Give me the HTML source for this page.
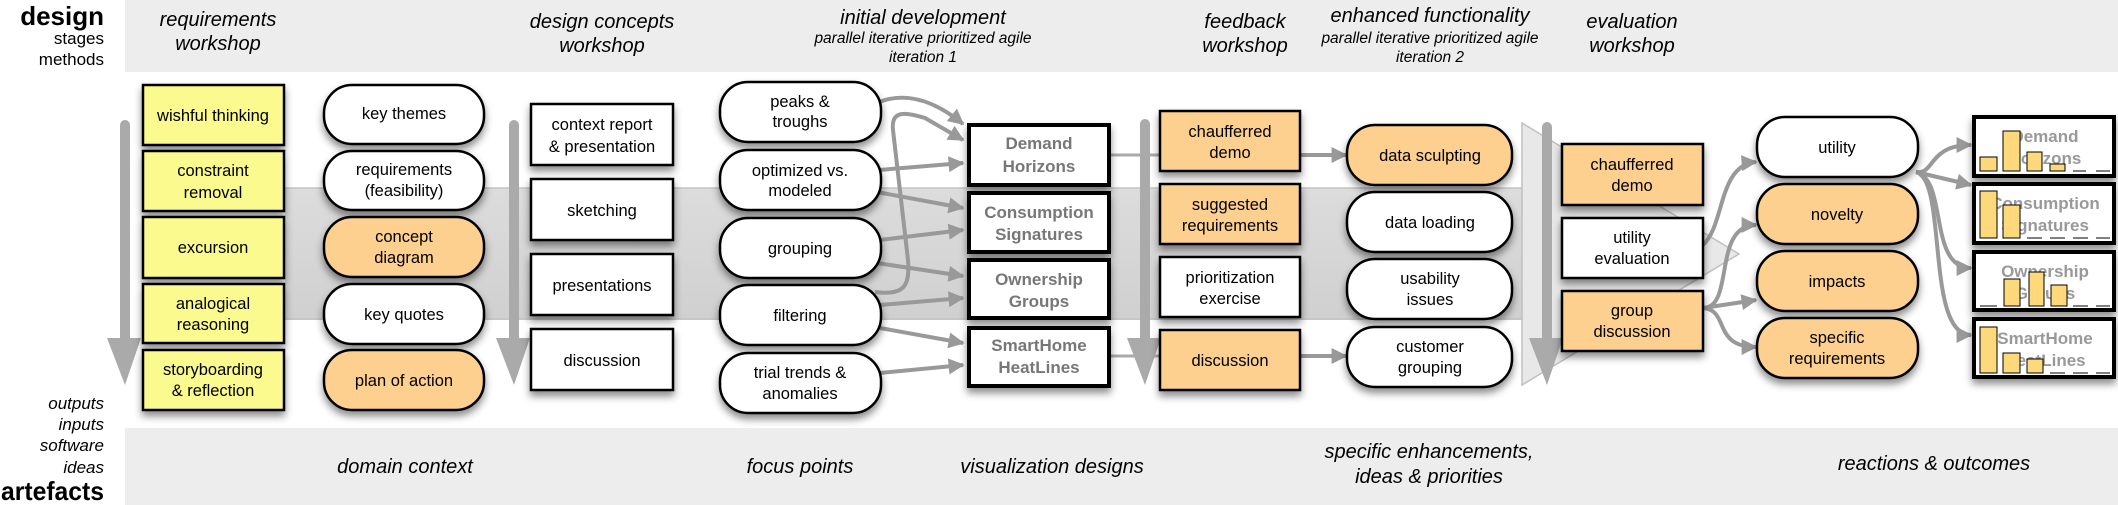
<!DOCTYPE html>
<html><head><meta charset="utf-8"><style>
html,body{margin:0;padding:0;background:#fff;}
svg{display:block;}
text{font-family:"Liberation Sans",sans-serif;}
</style></head><body>
<svg width="2118" height="505" viewBox="0 0 2118 505" xmlns="http://www.w3.org/2000/svg">
<defs>
<filter id="sh" x="-20%" y="-20%" width="140%" height="160%"><feDropShadow dx="0" dy="5" stdDeviation="4" flood-color="#000" flood-opacity="0.45"/></filter>
<marker id="ah" viewBox="0 0 10 10" markerWidth="18" markerHeight="16" markerUnits="userSpaceOnUse" refX="9" refY="5" orient="auto"><path d="M0,0 L10,5 L0,10 z" fill="#999"/></marker>
<linearGradient id="band" x1="0" y1="0" x2="0" y2="1"><stop offset="0" stop-color="#dcdcdc"/><stop offset="1" stop-color="#d0d0d0"/></linearGradient>
</defs>
<!-- bands -->
<rect x="125" y="0" width="1993" height="72" fill="#ededed"/>
<rect x="125" y="428" width="1993" height="77" fill="#ededed"/>
<rect x="285" y="188" width="1237" height="132" fill="url(#band)"/>
<line x1="285" y1="188" x2="1522" y2="188" stroke="#c4c4c4" stroke-width="1.5"/>
<line x1="285" y1="319" x2="1522" y2="319" stroke="#c4c4c4" stroke-width="1.5"/>
<polygon points="1522,123 1739,254 1522,385" fill="#d8d8d8" fill-opacity="0.6" stroke="#c0c0c0" stroke-width="1.5"/>

<!-- left labels -->
<g text-anchor="end">
<text x="104" y="25" font-size="26" font-weight="bold">design</text>
<text x="104" y="44" font-size="17">stages</text>
<text x="104" y="65" font-size="17">methods</text>
<g font-style="italic" font-size="17">
<text x="104" y="409">outputs</text>
<text x="104" y="430">inputs</text>
<text x="104" y="451">software</text>
<text x="104" y="473">ideas</text>
</g>
</g>
<text x="1" y="500" font-size="26" font-weight="bold" textLength="103" lengthAdjust="spacingAndGlyphs">artefacts</text>

<!-- header texts -->
<g text-anchor="middle" font-style="italic" font-size="20">
<text x="218" y="26">requirements</text><text x="218" y="50">workshop</text>
<text x="602" y="28">design concepts</text><text x="602" y="52">workshop</text>
<text x="923" y="24">initial development</text>
<text x="923" y="43" font-size="15.5">parallel iterative prioritized agile</text>
<text x="923" y="62" font-size="15.5">iteration 1</text>
<text x="1245" y="28">feedback</text><text x="1245" y="52">workshop</text>
<text x="1430" y="22">enhanced functionality</text>
<text x="1430" y="43" font-size="15.5">parallel iterative prioritized agile</text>
<text x="1430" y="62" font-size="15.5">iteration 2</text>
<text x="1632" y="28">evaluation</text><text x="1632" y="52">workshop</text>
<text x="405" y="473">domain context</text>
<text x="800" y="473">focus points</text>
<text x="1052" y="473">visualization designs</text>
<text x="1429" y="458">specific enhancements,</text>
<text x="1429" y="483">ideas &amp; priorities</text>
<text x="1934" y="470">reactions &amp; outcomes</text>
</g>

<!-- big arrows -->
<g fill="#aaa">
<rect x="120" y="120" width="10" height="225" rx="5"/><polygon points="107,338 141,338 125,385"/>
<rect x="509" y="120" width="10" height="225" rx="5"/><polygon points="496,338 530,338 514,385"/>
<rect x="1140" y="119" width="10" height="225" rx="5"/><polygon points="1127,338 1161,338 1145,385"/>
<rect x="1542" y="122" width="10" height="225" rx="5"/><polygon points="1529,338 1563,338 1547,385"/>
</g>

<!-- connector lines -->
<g fill="none" stroke="#999" stroke-width="4">
<line x1="1110" y1="155" x2="1160" y2="155" stroke="#aaa" stroke-width="3"/>
<line x1="1110" y1="356" x2="1160" y2="356" stroke="#aaa" stroke-width="3"/>
<path d="M875,292 C905,296 910,285 908,260 L893,130 C891,110 905,112 925,118 L963,140" marker-end="url(#ah)"/>
<path d="M879,102 C910,90 940,105 963,124" marker-end="url(#ah)"/>
<path d="M879,170 L963,163" marker-end="url(#ah)"/>
<path d="M877,192 L963,208" marker-end="url(#ah)"/>
<path d="M880,240 L963,230" marker-end="url(#ah)"/>
<path d="M877,263 L963,276" marker-end="url(#ah)"/>
<path d="M880,305 L963,298" marker-end="url(#ah)"/>
<path d="M880,328 L963,343" marker-end="url(#ah)"/>
<path d="M880,373 L963,365" marker-end="url(#ah)"/>
<path d="M1300,155 L1346,155" marker-end="url(#ah)"/>
<path d="M1300,356 L1346,356" marker-end="url(#ah)"/>
<path d="M1703,245 C1725,225 1718,165 1756,162" marker-end="url(#ah)"/>
<path d="M1703,308 C1735,308 1712,225 1756,225" marker-end="url(#ah)"/>
<path d="M1703,308 L1756,300" marker-end="url(#ah)"/>
<path d="M1703,308 C1730,310 1712,347 1756,347" marker-end="url(#ah)"/>
<path d="M1916,172 C1935,175 1928,145 1971,145" marker-end="url(#ah)"/>
<path d="M1916,172 L1971,185" marker-end="url(#ah)"/>
<path d="M1916,172 C1948,180 1928,268 1971,268" marker-end="url(#ah)"/>
<path d="M1916,172 C1948,180 1925,335 1971,335" marker-end="url(#ah)"/>
</g>

<!-- shapes -->
<g stroke="#000" stroke-width="2.5" filter="url(#sh)">
<g fill="#fbfa8f">
<rect x="143" y="85" width="141" height="60"/><rect x="143" y="151" width="141" height="60"/>
<rect x="143" y="217" width="141" height="61"/><rect x="143" y="284" width="141" height="59"/>
<rect x="143" y="350" width="141" height="60"/>
</g>
<rect x="324" y="85" width="160" height="59" rx="28" fill="#fff"/>
<rect x="324" y="151" width="160" height="59" rx="28" fill="#fff"/>
<rect x="324" y="217" width="160" height="60" rx="28" fill="#fdd08f"/>
<rect x="324" y="284" width="160" height="60" rx="28" fill="#fff"/>
<rect x="324" y="350" width="160" height="60" rx="28" fill="#fdd08f"/>
<g fill="#fff">
<rect x="531" y="104" width="142" height="61"/><rect x="531" y="179" width="142" height="61"/>
<rect x="531" y="254" width="142" height="61"/><rect x="531" y="329" width="142" height="61"/>
</g>
<g fill="#fff">
<rect x="720" y="82" width="161" height="60" rx="28"/><rect x="720" y="150" width="161" height="60" rx="28"/>
<rect x="720" y="218" width="161" height="60" rx="28"/><rect x="720" y="285" width="161" height="60" rx="28"/>
<rect x="720" y="353" width="161" height="60" rx="28"/>
</g>
<g fill="#fff" stroke-width="4">
<rect x="969" y="125" width="140" height="60"/><rect x="969" y="193" width="140" height="59"/>
<rect x="969" y="260" width="140" height="58"/><rect x="969" y="328" width="140" height="58"/>
</g>
<rect x="1160" y="111" width="140" height="60" fill="#fdd08f"/>
<rect x="1160" y="184" width="140" height="60" fill="#fdd08f"/>
<rect x="1160" y="257" width="140" height="60" fill="#fff"/>
<rect x="1160" y="330" width="140" height="60" fill="#fdd08f"/>
<rect x="1347" y="125" width="165" height="60" rx="28" fill="#fdd08f"/>
<rect x="1347" y="192" width="165" height="60" rx="28" fill="#fff"/>
<rect x="1347" y="259" width="165" height="60" rx="28" fill="#fff"/>
<rect x="1347" y="327" width="165" height="60" rx="28" fill="#fff"/>
<rect x="1562" y="144" width="141" height="61" fill="#fdd08f"/>
<rect x="1562" y="218" width="141" height="60" fill="#fff"/>
<rect x="1562" y="291" width="141" height="60" fill="#fdd08f"/>
<rect x="1757" y="117" width="161" height="60" rx="28" fill="#fff"/>
<rect x="1757" y="184" width="161" height="60" rx="28" fill="#fdd08f"/>
<rect x="1757" y="251" width="161" height="60" rx="28" fill="#fdd08f"/>
<rect x="1757" y="318" width="161" height="60" rx="28" fill="#fdd08f"/>
<g fill="#fff" stroke-width="4">
<rect x="1974" y="117" width="140" height="59"/><rect x="1974" y="184" width="140" height="59"/>
<rect x="1974" y="252" width="140" height="58"/><rect x="1974" y="319" width="140" height="58"/>
</g>
</g>

<!-- box texts -->
<g text-anchor="middle" font-size="16.5" fill="#000">
<text x="213" y="121">wishful thinking</text>
<text x="213" y="176">constraint</text><text x="213" y="198">removal</text>
<text x="213" y="253">excursion</text>
<text x="213" y="309">analogical</text><text x="213" y="330">reasoning</text>
<text x="213" y="375">storyboarding</text><text x="213" y="396">&amp; reflection</text>

<text x="404" y="119">key themes</text>
<text x="404" y="175">requirements</text><text x="404" y="196">(feasibility)</text>
<text x="404" y="242">concept</text><text x="404" y="263">diagram</text>
<text x="404" y="320">key quotes</text>
<text x="404" y="386">plan of action</text>

<text x="602" y="130">context report</text><text x="602" y="152">&amp; presentation</text>
<text x="602" y="216">sketching</text>
<text x="602" y="291">presentations</text>
<text x="602" y="366">discussion</text>

<text x="800" y="107">peaks &amp;</text><text x="800" y="127">troughs</text>
<text x="800" y="176">optimized vs.</text><text x="800" y="196">modeled</text>
<text x="800" y="254">grouping</text>
<text x="800" y="321">filtering</text>
<text x="800" y="378">trial trends &amp;</text><text x="800" y="399">anomalies</text>

<g font-weight="bold" fill="#777" font-size="17">
<text x="1039" y="149">Demand</text><text x="1039" y="172">Horizons</text>
<text x="1039" y="218">Consumption</text><text x="1039" y="240">Signatures</text>
<text x="1039" y="285">Ownership</text><text x="1039" y="307">Groups</text>
<text x="1039" y="351">SmartHome</text><text x="1039" y="373">HeatLines</text>
</g>

<text x="1230" y="137">chaufferred</text><text x="1230" y="158">demo</text>
<text x="1230" y="210">suggested</text><text x="1230" y="231">requirements</text>
<text x="1230" y="283">prioritization</text><text x="1230" y="304">exercise</text>
<text x="1230" y="366">discussion</text>

<text x="1430" y="161">data sculpting</text>
<text x="1430" y="228">data loading</text>
<text x="1430" y="284">usability</text><text x="1430" y="305">issues</text>
<text x="1430" y="352">customer</text><text x="1430" y="373">grouping</text>

<text x="1632" y="170">chaufferred</text><text x="1632" y="191">demo</text>
<text x="1632" y="243">utility</text><text x="1632" y="264">evaluation</text>
<text x="1632" y="316">group</text><text x="1632" y="337">discussion</text>

<text x="1837" y="153">utility</text>
<text x="1837" y="220">novelty</text>
<text x="1837" y="287">impacts</text>
<text x="1837" y="343">specific</text><text x="1837" y="364">requirements</text>

<g font-weight="bold" fill="#999" font-size="17">
<text x="2045" y="142">Demand</text><text x="2045" y="164">Horizons</text>
<text x="2045" y="209">Consumption</text><text x="2045" y="231">Signatures</text>
<text x="2045" y="277">Ownership</text><text x="2045" y="299">Groups</text>
<text x="2045" y="344">SmartHome</text><text x="2045" y="366">HeatLines</text>
</g>
</g>

<!-- bars -->
<g fill="#fdd97b" stroke="#000" stroke-width="1">
<rect x="1980" y="157" width="17" height="14"/><rect x="2003" y="131" width="17" height="40"/>
<rect x="2027" y="152" width="15" height="19"/><rect x="2050" y="164" width="15" height="7"/>
<rect x="1980" y="191" width="17" height="47"/><rect x="2003" y="205" width="17" height="33"/>
<rect x="2004" y="279" width="16" height="27"/><rect x="2029" y="272" width="15" height="34"/>
<rect x="2051" y="285" width="16" height="21"/>
<rect x="1980" y="327" width="17" height="46"/><rect x="2003" y="353" width="17" height="20"/>
<rect x="2027" y="359" width="16" height="14"/>
</g>
<g stroke="#000" stroke-width="1">
<line x1="2073" y1="171" x2="2086" y2="171"/><line x1="2096" y1="171" x2="2110" y2="171"/>
<line x1="2027" y1="238" x2="2042" y2="238"/><line x1="2050" y1="238" x2="2065" y2="238"/>
<line x1="2073" y1="238" x2="2088" y2="238"/><line x1="2096" y1="238" x2="2110" y2="238"/>
<line x1="1980" y1="306" x2="1997" y2="306"/><line x1="2073" y1="306" x2="2088" y2="306"/>
<line x1="2096" y1="306" x2="2110" y2="306"/>
<line x1="2050" y1="373" x2="2065" y2="373"/><line x1="2073" y1="373" x2="2088" y2="373"/>
<line x1="2096" y1="373" x2="2110" y2="373"/>
</g>
</svg>
</body></html>
